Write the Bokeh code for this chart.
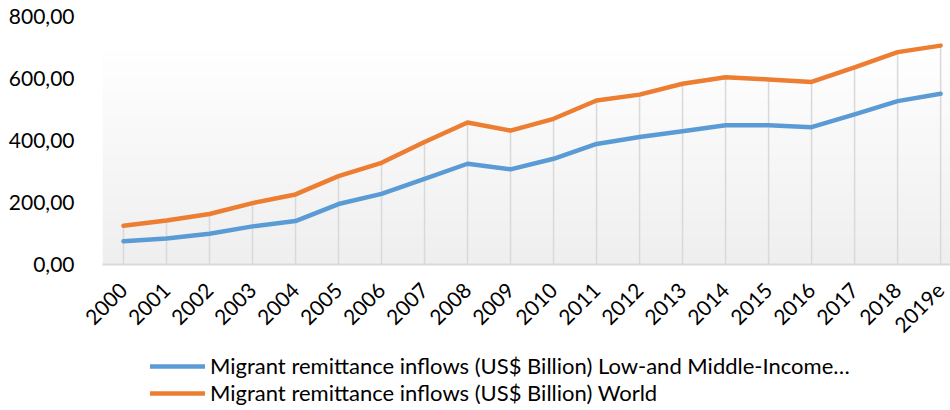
import math
import numpy as np
from bokeh.plotting import figure
from bokeh.layouts import column
from bokeh.models import Legend, LegendItem, FixedTicker, Range1d, ColumnDataSource
from bokeh.embed import file_html
from bokeh.resources import INLINE

years = ["2000", "2001", "2002", "2003", "2004", "2005", "2006", "2007", "2008", "2009",
         "2010", "2011", "2012", "2013", "2014", "2015", "2016", "2017", "2018", "2019e"]
lmic = [75, 84, 99, 123, 140, 195, 228, 276, 325, 307,
        341, 389, 411, 430, 449, 449, 443, 484, 527, 551]
world = [125, 142, 163, 198, 226, 285, 328, 395, 458, 432,
         470, 529, 548, 583, 604, 597, 589, 636, 685, 706]
y_ticks = [0, 200, 400, 600, 800]
y_tick_labels = ["0,00", "200,00", "400,00", "600,00", "800,00"]
series_names = ["Migrant remittance inflows (US$ Billion) Low-and Middle-Income…",
                "Migrant remittance inflows (US$ Billion) World"]
colors = ["#5b9bd5", "#ed7d31"]

FONT = "Lato"
xs = list(range(len(years)))
x_start, x_end = -0.488, 19.23
y_start, y_end = 0, 800

src = ColumnDataSource(dict(x=xs, lmic=lmic, world=world,
                            top=[max(a, b) for a, b in zip(lmic, world)],
                            base=[y_start] * len(xs)))

p = figure(width=950, height=342, output_backend="svg", toolbar_location=None,
           x_range=Range1d(x_start, x_end), y_range=Range1d(y_start, y_end),
           min_border_left=102, min_border_right=0, min_border_top=16, min_border_bottom=77)
p.outline_line_color = None
p.background_fill_color = "white"
p.border_fill_color = "white"

# subtle vertical gradient background of the plot area
n = 64
top = np.array([255, 255, 255])
bot = np.array([239, 239, 239])
rows = []
for i in range(n):
    t = min(1.0, (i / (n - 1)) * 1.15)
    c = (bot + (top - bot) * t).astype(np.uint32)
    rows.append([(255 << 24) | (int(c[2]) << 16) | (int(c[1]) << 8) | int(c[0])])
img = np.array(rows, dtype=np.uint32)
p.image_rgba(image=[img], x=x_start, y=y_start, dw=x_end - x_start, dh=y_end - y_start)

# drop lines from the axis up to the highest series
p.segment(x0="x", y0="base", x1="x", y1="top", source=src, line_color="#d9d9d9", line_width=1.5)

p.line("x", "lmic", source=src, line_color=colors[0], line_width=4.5, line_join="round", line_cap="round")
p.line("x", "world", source=src, line_color=colors[1], line_width=4.5, line_join="round", line_cap="round")

p.grid.visible = False

xa = p.xaxis[0]
xa.ticker = FixedTicker(ticks=xs)
xa.major_label_overrides = {i: y for i, y in enumerate(years)}
xa.major_label_orientation = math.pi / 4
xa.axis_line_color = "#d9d9d9"
xa.axis_line_width = 2
xa.major_tick_line_color = None
xa.minor_tick_line_color = None
xa.major_label_text_font = FONT
xa.major_label_text_font_size = "21px"
xa.major_label_text_color = "#000000"
xa.major_label_standoff = 16

ya = p.yaxis[0]
ya.ticker = FixedTicker(ticks=y_ticks)
ya.major_label_overrides = {v: l for v, l in zip(y_ticks, y_tick_labels)}
ya.axis_line_color = None
ya.major_tick_line_color = None
ya.minor_tick_line_color = None
ya.major_label_text_font = FONT
ya.major_label_text_font_size = "21px"
ya.major_label_text_color = "#000000"
ya.major_label_standoff = 22

# legend strip below the chart (series drawn outside its visible range, only the legend shows)
lg = figure(width=950, height=68, output_backend="svg", toolbar_location=None,
            x_range=Range1d(-100, -99), y_range=Range1d(-100, -99),
            min_border_left=102, min_border_right=0, min_border_top=0, min_border_bottom=0)
lg.axis.visible = False
lg.grid.visible = False
lg.outline_line_color = None
lg.border_fill_color = "white"
lg.background_fill_color = "white"
ra = lg.line("x", "lmic", source=src, line_color=colors[0], line_width=4.5, line_cap="round")
rb = lg.line("x", "world", source=src, line_color=colors[1], line_width=4.5, line_cap="round")
legend = Legend(items=[LegendItem(label=series_names[0], renderers=[ra]),
                       LegendItem(label=series_names[1], renderers=[rb])],
                orientation="vertical", location=(48, 4))
legend.label_text_font = FONT
legend.label_text_font_size = "22px"
legend.label_text_color = "#000000"
legend.glyph_width = 55
legend.glyph_height = 26
legend.label_height = 26
legend.label_standoff = 5
legend.spacing = 0
legend.padding = 0
legend.margin = 0
legend.border_line_color = None
legend.background_fill_alpha = 0
lg.add_layout(legend, "center")

layout = column(p, lg, spacing=0)
open("out.html", "w").write(file_html(layout, INLINE))
